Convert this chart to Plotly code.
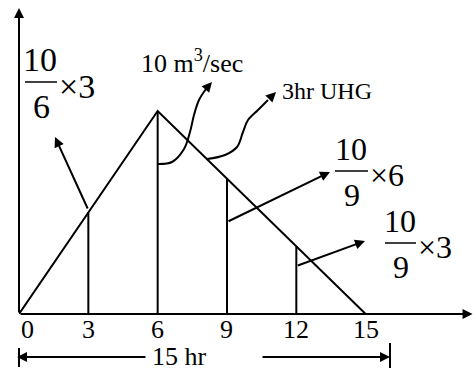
import plotly.graph_objects as go

# ---- data ----
uh_time = [0, 6, 15]          # triangular 3-hr UHG (hr)
uh_flow = [0, 10, 0]          # discharge (m3/s)
ord_times = [3, 6, 9, 12]     # ordinate locations (hr)
ordinates = [10 / 6 * 3, 10, 10 / 9 * 6, 10 / 9 * 3]
tick_vals = [0, 3, 6, 9, 12, 15]
tick_labels = ["0", "3", "6", "9", "12", "15"]

# ---- layout geometry ----
W, H = 473, 370
L, R, T, B = 19, 0, 0, 56
XS, YS = 23.11, 20.3                  # px per data unit
XMAX = (W - L - R) / XS
YMAX = (H - T - B) / YS
FONT = "Liberation Serif, Times New Roman, serif"


def dx(px):
    return (px - L) / XS


def dy(py):
    return (H - B - py) / YS


def pxp(px):
    return (px - L) / (W - L - R)


def pyp(py):
    return (H - B - py) / (H - T - B)


fig = go.Figure()

# triangle hydrograph
fig.add_trace(go.Scatter(x=uh_time, y=uh_flow, mode="lines",
                         line=dict(color="black", width=2), hoverinfo="skip"))
# ordinates
vx, vy = [], []
for t, q in zip(ord_times, ordinates):
    vx += [t, t, None]
    vy += [0, q, None]
fig.add_trace(go.Scatter(x=vx, y=vy, mode="lines",
                         line=dict(color="black", width=2), hoverinfo="skip"))

# curved leaders
curveA = [(None, 164), (172, 162), (184, 149), (190, 132), (194, 115), (199, 100), (206, 89)]
curveB = [(207, 159), (225, 155), (237, 147), (243, 132), (248, 120), (258, 110), (268, 100)]
for pts in (curveA, curveB):
    xs = [6 if p is None else dx(p) for p, _ in pts]
    ys = [dy(q) for _, q in pts]
    fig.add_trace(go.Scatter(x=xs, y=ys, mode="lines", line_shape="spline",
                             line=dict(color="black", width=2), hoverinfo="skip"))

ann = []


def arrow(x, y, ax, ay, w=2):
    ann.append(dict(x=x, y=y, ax=ax, ay=ay, xref="x", yref="y", axref="x", ayref="y",
                    text="", showarrow=True, arrowhead=2, arrowsize=1, arrowwidth=w,
                    arrowcolor="black", standoff=0, startstandoff=0))


def parrow(px_tip, py_tip, px_tail, py_tail, w=2):
    ann.append(dict(x=pxp(px_tip), y=pyp(py_tip), xref="paper", yref="paper",
                    ax=px_tail - px_tip, ay=py_tail - py_tip, axref="pixel", ayref="pixel",
                    text="", showarrow=True, arrowhead=2, arrowsize=1, arrowwidth=w,
                    arrowcolor="black", standoff=0, startstandoff=0))


# axes
arrow(XMAX - 0.02, 0, 0, 0)
arrow(0, dy(8), 0, 0)
# straight leaders
arrow(dx(55), dy(137), 3, dy(210))
arrow(dx(330), dy(172), 9, dy(222))
arrow(dx(365), dy(241), 12, dy(266))
# curve heads
arrow(dx(212), dy(82), dx(205), dy(90))
arrow(dx(276), dy(92), dx(268), dy(100))


def text(t, px, py, size, xanchor="center", xref="paper"):
    ann.append(dict(text=t, x=pxp(px) if xref == "paper" else px, y=pyp(py),
                    xref=xref, yref="paper", showarrow=False,
                    xanchor=xanchor, yanchor="middle",
                    font=dict(family=FONT, size=size, color="black")))


# tick labels
for v, lab in zip(tick_vals, tick_labels):
    text(lab, v, 329, 26, xanchor="left" if v == 0 else "center", xref="x")

text("10 m<sup>3</sup>/sec", 192, 62, 26)
text("3hr UHG", 280, 91, 24, xanchor="left")

shapes = []


def hline(x0, x1, y, w=1.5):
    shapes.append(dict(type="line", xref="paper", yref="paper", x0=pxp(x0), x1=pxp(x1),
                       y0=pyp(y), y1=pyp(y), line=dict(color="black", width=w)))


def vline(x, y0, y1, w=2):
    shapes.append(dict(type="line", xref="paper", yref="paper", x0=pxp(x), x1=pxp(x),
                       y0=pyp(y0), y1=pyp(y1), line=dict(color="black", width=w)))


def frac(num, den, mult, cx, ybar, x0, x1, size):
    text(num, cx, ybar - 22, size)
    text(den, cx + 1, ybar + 24, size)
    hline(x0, x1, ybar)
    text("×" + mult, x1 + 0, ybar + 4, size, xanchor="left")


frac("10", "6", "3", 40, 82, 25, 57, 34)
frac("10", "9", "6", 351, 171, 335, 368, 32)
frac("10", "9", "3", 400, 243, 385, 416, 32)

# 15 hr dimension
vline(19, 348, 367)
vline(390, 343, 368)
parrow(17, 357, 147, 357)
parrow(390, 357, 261, 357)
text("15 hr", 179, 356, 26)

fig.update_layout(
    width=W, height=H, margin=dict(l=L, r=R, t=T, b=B, autoexpand=False),
    paper_bgcolor="white", plot_bgcolor="white", showlegend=False,
    hovermode=False,
    xaxis=dict(range=[0, XMAX], visible=False),
    yaxis=dict(range=[0, YMAX], visible=False),
    annotations=ann, shapes=shapes,
)
fig.write_html("out.html", config={"displayModeBar": False, "staticPlot": True},
               post_script="document.body.style.margin='0';document.body.style.overflow='hidden';")
